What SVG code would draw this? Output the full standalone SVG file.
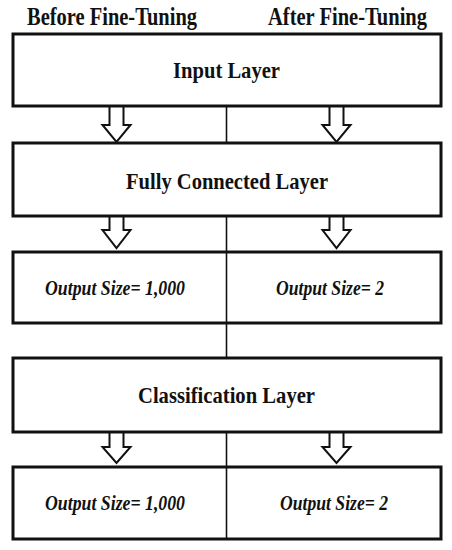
<svg xmlns="http://www.w3.org/2000/svg" width="452" height="550" viewBox="0 0 452 550">
<style>
.box{fill:#fff;stroke:#111;stroke-width:3}
.arr{fill:#fff;stroke:#111;stroke-width:2;stroke-linejoin:miter}
.div{stroke:#111;stroke-width:1.6;fill:none}
.t{font-family:"Liberation Serif","Times New Roman",serif;font-weight:bold;fill:#111;text-anchor:middle}
.h{font-size:25px}
.l{font-size:24px}
.o{font-size:22px;font-style:italic}
</style>
<rect width="452" height="550" fill="#fff"/>
<g id="headers">
<text class="t h" x="112" y="25" textLength="170" lengthAdjust="spacingAndGlyphs">Before Fine-Tuning</text>
<text class="t h" x="347.5" y="25" textLength="159" lengthAdjust="spacingAndGlyphs">After Fine-Tuning</text>
</g>
<g id="connectors">
<line class="div" x1="226.5" y1="106" x2="226.5" y2="143"/>
<line class="div" x1="226.5" y1="216" x2="226.5" y2="358"/>
<line class="div" x1="226.5" y1="432" x2="226.5" y2="539"/>
<polygon class="arr" points="109.5,106 123.5,106 123.5,125 130.5,125 116.5,142 102.5,125 109.5,125"/>
<polygon class="arr" points="329.5,106 343.5,106 343.5,125 350.5,125 336.5,142 322.5,125 329.5,125"/>
<polygon class="arr" points="109.5,216 123.5,216 123.5,230 130.5,230 116.5,248 102.5,230 109.5,230"/>
<polygon class="arr" points="329.5,216 343.5,216 343.5,230 350.5,230 336.5,248 322.5,230 329.5,230"/>
<polygon class="arr" points="109.5,432 123.5,432 123.5,447 130.5,447 116.5,463 102.5,447 109.5,447"/>
<polygon class="arr" points="329.5,432 343.5,432 343.5,447 350.5,447 336.5,463 322.5,447 329.5,447"/>
</g>
<g id="input-layer">
<rect class="box" x="13" y="34" width="428" height="72"/>
<text class="t l" x="226.5" y="78" textLength="107" lengthAdjust="spacingAndGlyphs">Input Layer</text>
</g>
<g id="fully-connected-layer">
<rect class="box" x="13" y="143" width="428" height="73"/>
<text class="t l" x="227" y="189" textLength="202" lengthAdjust="spacingAndGlyphs">Fully Connected Layer</text>
</g>
<g id="fc-output">
<rect class="box" x="13" y="252" width="428" height="71"/>
<line class="div" x1="226.5" y1="252" x2="226.5" y2="323"/>
<text class="t o" x="115" y="295" textLength="140" lengthAdjust="spacingAndGlyphs">Output Size= 1,000</text>
<text class="t o" x="330" y="295" textLength="108" lengthAdjust="spacingAndGlyphs">Output Size= 2</text>
</g>
<g id="classification-layer">
<rect class="box" x="13" y="358" width="428" height="74"/>
<text class="t l" x="226.5" y="403" textLength="177" lengthAdjust="spacingAndGlyphs">Classification Layer</text>
</g>
<g id="class-output">
<rect class="box" x="13" y="467" width="428" height="72"/>
<line class="div" x1="226.5" y1="467" x2="226.5" y2="539"/>
<text class="t o" x="115" y="510" textLength="140" lengthAdjust="spacingAndGlyphs">Output Size= 1,000</text>
<text class="t o" x="334" y="510" textLength="108" lengthAdjust="spacingAndGlyphs">Output Size= 2</text>
</g>
</svg>
